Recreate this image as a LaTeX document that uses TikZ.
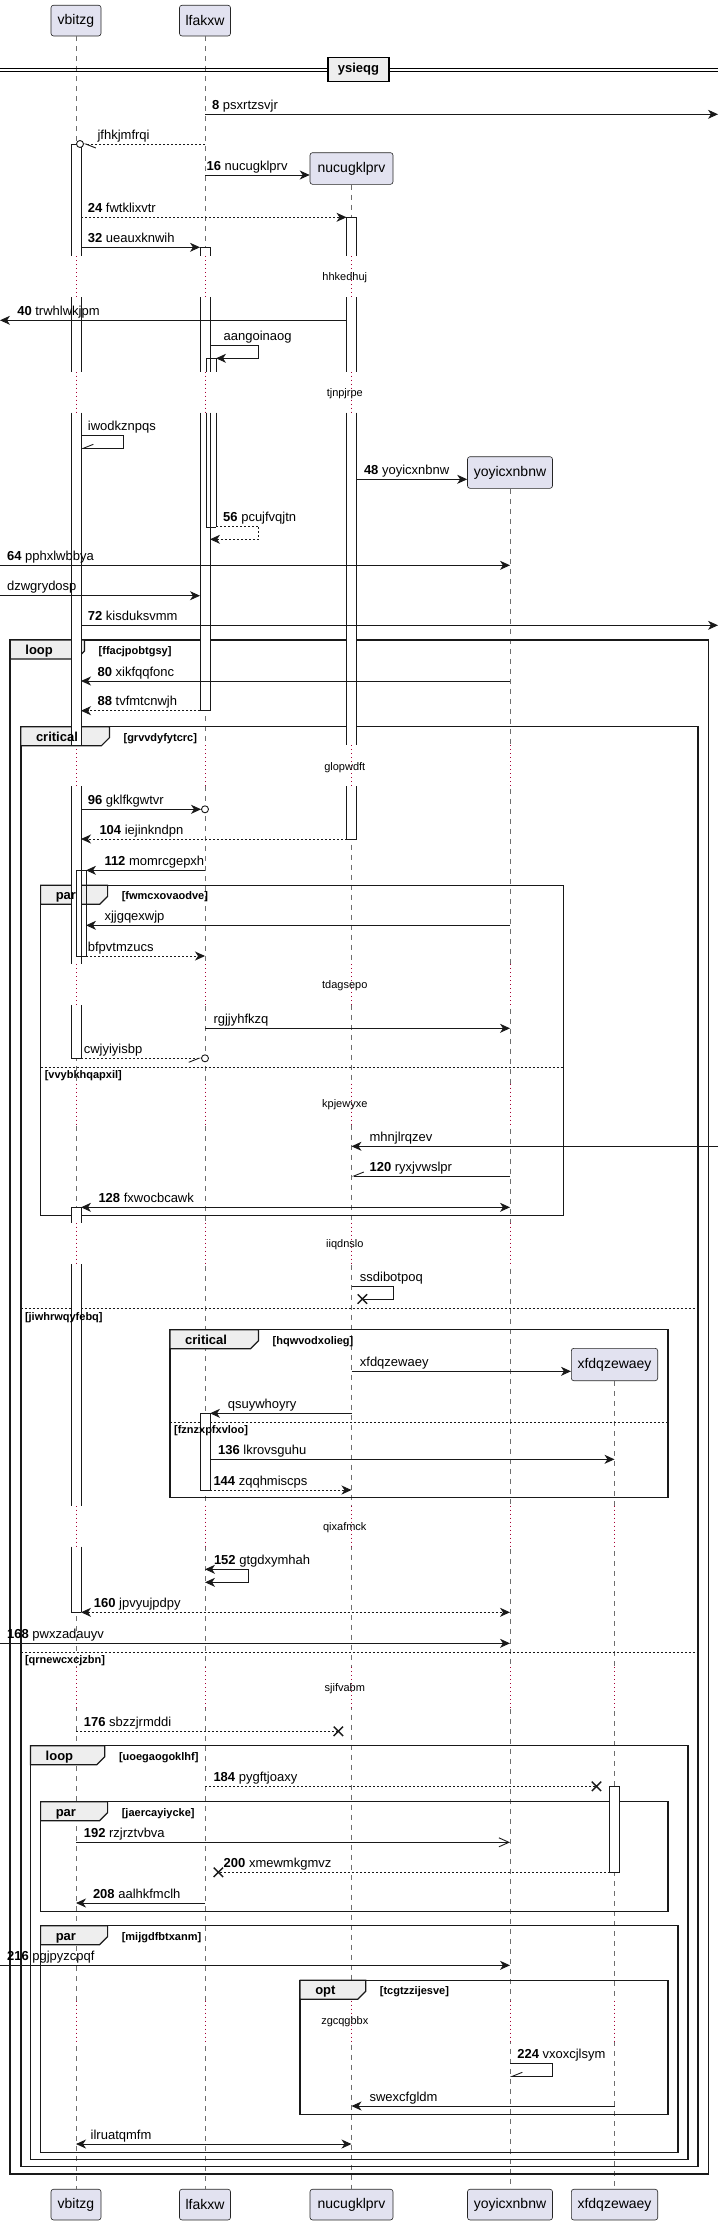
\documentclass[tikz,border=0pt]{standalone}
\usepackage{fontspec}
\setmainfont{Liberation Sans}
\usetikzlibrary{arrows.meta,shapes.misc}
\pgfdeclarelayer{fg}
\pgfsetlayers{main,fg}
\definecolor{partfill}{RGB}{226,226,240}
\definecolor{tabfill}{RGB}{238,238,238}
\definecolor{delaycol}{RGB}{168,0,54}
\definecolor{lifecol}{RGB}{110,110,110}
\tikzset{
  lbl/.style={anchor=base west, inner sep=0pt, font=\fontsize{13}{15}\selectfont},
  dly/.style={inner sep=0pt, font=\fontsize{11}{13}\selectfont},
  guard/.style={anchor=base west, inner sep=0pt, font=\bfseries\fontsize{11}{13}\selectfont},
  tablbl/.style={anchor=base west, inner sep=0pt, font=\bfseries\fontsize{13}{15}\selectfont},
  part/.style={draw=black!85, fill=partfill, rounded corners=2.5pt, line width=0.6pt, font=\fontsize{14}{16}\selectfont, inner sep=0pt},
  msg/.style={draw=black!90, line width=0.9pt},
  dsh/.style={dash pattern=on 2pt off 2pt},
  fa/.style={-{Stealth[length=10pt,width=9pt,inset=3pt]}},
  fb/.style={{Stealth[length=10pt,width=9pt,inset=3pt]}-{Stealth[length=10pt,width=9pt,inset=3pt]}},
  oa/.style={-{Straight Barb[length=10pt,width=9pt]}},
  hl/.style={-{Straight Barb[length=10pt,width=8pt,harpoon]}},
  hr/.style={-{Straight Barb[length=10pt,width=8pt,harpoon,swap]}},
  life/.style={draw=lifecol, line width=0.6pt, dash pattern=on 5pt off 5pt},
  dotl/.style={draw=delaycol, line width=0.8pt, dash pattern=on 1pt off 3pt},
  act/.style={draw=black!90, line width=0.8pt},
  frm/.style={draw=black!90, line width=1.5pt},
  tabs/.style={draw=black!90, fill=tabfill, line width=1.2pt},
  sepl/.style={draw=black!90, line width=0.9pt, dash pattern=on 2pt off 2pt},
  circ/.style={circle, draw=black!90, line width=0.9pt, fill=white, minimum size=7pt, inner sep=0pt},
  xm/.style={cross out, draw=black!90, line width=1.4pt, minimum size=8pt, inner sep=0pt},
}
\newcommand\sqMsg[7]{%
  \coordinate (#1a) at (#2,#4);
  \coordinate (#1b) at (#3,#4);
  \draw[msg,#5] (#1a) -- (#1b);
  \node[lbl] (#1l) at (#6,#4-5) {#7};
}
\newcommand\sqSelf[9]{%
  \coordinate (#1a) at (#2,#5);
  \coordinate (#1b) at (#4,#6);
  \draw[msg,#7] (#1a) -- (#3,#5) -- (#3,#6) -- (#1b);
  \node[lbl] (#1l) at (#8,#5-5) {#9};
}
\newcommand\sqAct[4]{%
  \fill[white] (#1,#3) rectangle (#2,#4);
  \draw[act] (#1,#3) -- (#1,#4) (#2,#3) -- (#2,#4);
}
\newcommand\sqActE[4]{%
  \draw[act] (#1,#3) -- (#1,#4) (#2,#3) -- (#2,#4);
}
\newcommand\sqCap[3]{\draw[act] (#1,#3) -- (#2,#3);}
\newcommand\sqFrame[8]{%
  \draw[frm] (#2,#3) rectangle (#4,#5);
  \filldraw[tabs] (#2,#3) -- ++(#6,0) -- ++(0,11) -- ++(-8,8) -- (#2,#3+19) -- cycle;
  \begin{pgfonlayer}{fg}
  \node[tablbl] (#1t) at (#2+15,#3+14.5) {#7};
  \node[guard] (#1g) at (#2+#6+14,#3+14.5) {#8};
  \end{pgfonlayer}
}
\newcommand\sqElse[5]{%
  \draw[sepl] (#2,#4) -- (#3,#4);
  \begin{pgfonlayer}{fg}
  \node[guard] (#1) at (#2+4,#4+11.5) {#5};
  \end{pgfonlayer}
}
\begin{document}
\begin{tikzpicture}[x=1pt,y=-1pt]
\useasboundingbox (0,0) rectangle (718,2225);
% participants
\node[part, minimum width=50pt, minimum height=30.7pt] (hv) at (76,20.6) {vbitzg};
\node[part, minimum width=51pt, minimum height=30.7pt] (hl) at (205,20.6) {lfakxw};
\node[part, minimum width=83pt, minimum height=31.6pt] (hn) at (351.5,168.5) {nucugklprv};
\node[part, minimum width=85pt, minimum height=31.6pt] (hy) at (510,472.5) {yoyicxnbnw};
\node[part, minimum width=86.4pt, minimum height=32.4pt] (hx) at (614.5,1364.5) {xfdqzewaey};
\node[part, minimum width=50pt, minimum height=30.7pt] (fv) at (76,2204.6) {vbitzg};
\node[part, minimum width=51pt, minimum height=30.7pt] (fl) at (205,2204.6) {lfakxw};
\node[part, minimum width=83pt, minimum height=30.7pt] (fn) at (351.5,2204.6) {nucugklprv};
\node[part, minimum width=85pt, minimum height=30.7pt] (fy) at (510,2204.6) {yoyicxnbnw};
\node[part, minimum width=86.4pt, minimum height=30.7pt] (fx) at (614.5,2204.6) {xfdqzewaey};
% lifelines
\draw[life] (hv.south) -- (fv.north);
\draw[life] (hl.south) -- (fl.north);
\draw[life] (hn.south) -- (fn.north);
\draw[life] (hy.south) -- (fy.north);
\draw[life] (hx.south) -- (fx.north);
\foreach \x in {76,205,351.5}{
  \foreach \a/\b in {256/297.3,371.7/412.7,745/786,964.3/1005,1083.6/1124.6,1222.7/1264.3,1505.7/1546.7,1667/1707.7,2000.5/2041}{
    \draw[white,line width=2.5pt] (\x,\a) -- (\x,\b);
    \draw[dotl] (\x,\a) -- (\x,\b);}}
\foreach \a/\b in {745/786,964.3/1005,1083.6/1124.6,1222.7/1264.3,1505.7/1546.7,1667/1707.7,2000.5/2041}{
    \draw[white,line width=2.5pt] (510,\a) -- (510,\b);
    \draw[dotl] (510,\a) -- (510,\b);}
\foreach \a/\b in {1505.7/1546.7,1667/1707.7,2000.5/2041}{
    \draw[white,line width=2.5pt] (614.5,\a) -- (614.5,\b);
    \draw[dotl] (614.5,\a) -- (614.5,\b);}
% delay texts
\node[dly] (d1) at (344.8,277.3) {hhkedhuj};
\node[dly] (d2) at (344.8,393.3) {tjnpjrpe};
\node[dly] (d3) at (344.8,767.3) {glopwdft};
\node[dly] (d4) at (344.8,985.3) {tdagsepo};
\node[dly] (d5) at (344.8,1104.3) {kpjewyxe};
\node[dly] (d6) at (344.8,1244.7) {iiqdnslo};
\node[dly] (d7) at (344.8,1527.3) {qixafmck};
\node[dly] (d8) at (344.8,1688.3) {sjifvabm};
\node[dly] (d9) at (344.8,2022) {zgcqgbbx};
% divider
\draw[line width=0.9pt] (0,68.3) -- (718,68.3) (0,71.7) -- (718,71.7);
\node[draw=black, line width=1.5pt, fill=tabfill, minimum width=61.4pt, minimum height=24.4pt, inner sep=0pt, font=\bfseries\fontsize{13}{15}\selectfont] (div) at (358.5,69.5) {ysieqg};
% frames
\sqFrame{f1}{10.2}{640}{708.7}{2174}{74.3}{loop}{[ffacjpobtgsy]}
\sqFrame{f2}{20.8}{726.7}{698.1}{2166.7}{88.6}{critical}{[grvvdyfytcrc]}
\sqElse{e21}{20.8}{698.1}{1308.7}{[jiwhrwqyfebq]}
\sqElse{e22}{20.8}{698.1}{1652.3}{[qrnewcxcjzbn]}
\sqFrame{f3}{40.6}{885.3}{563.3}{1215.7}{67}{par}{[fwmcxovaodve]}
\sqElse{e31}{40.6}{563.3}{1067.3}{[vvybkhqapxil]}
\sqFrame{f4}{169.9}{1329.7}{668.1}{1497.7}{88.6}{critical}{[hqwvodxolieg]}
\sqElse{e41}{169.9}{668.1}{1422}{[fznzxpfxvloo]}
\sqFrame{f5}{30.5}{1745.7}{687.9}{2159.3}{74.3}{loop}{[uoegaogoklhf]}
\sqFrame{f6}{40.6}{1801.7}{668.1}{1911.3}{67}{par}{[jaercayiycke]}
\sqFrame{f7}{40.6}{1925.7}{677.8}{2152.3}{67}{par}{[mijgdfbtxanm]}
\sqFrame{f8}{300.1}{1980.3}{668.1}{2114.3}{65.6}{opt}{[tcgtzzijesve]}
% activations
\sqAct{71}{81}{144}{256}\sqAct{71}{81}{297.3}{371.7}\sqAct{71}{81}{412.7}{745}\sqAct{71}{81}{786}{964.3}\sqAct{71}{81}{1005}{1058.3}
\sqCap{71}{81}{144}\sqCap{71}{81}{1058.3}
\sqActE{76}{86}{870.3}{956}\sqCap{76}{86}{870.3}\sqCap{76}{86}{956}
\sqAct{71}{81}{1207.3}{1222.7}\sqAct{71}{81}{1264.3}{1505.7}\sqAct{71}{81}{1546.7}{1612.3}
\sqCap{71}{81}{1207.3}\sqCap{71}{81}{1612.3}
\sqAct{200}{210}{247.3}{256}\sqAct{200}{210}{297.3}{371.7}\sqAct{200}{210}{412.7}{710.7}
\sqCap{200}{210}{247.3}\sqCap{200}{210}{710.7}
\sqActE{206}{216}{358.3}{371.7}\sqActE{206}{216}{412.7}{527.3}\sqCap{206}{216}{358.3}\sqCap{206}{216}{527.3}
\sqAct{200}{210}{1413.3}{1490}\sqCap{200}{210}{1413.3}\sqCap{200}{210}{1490}
\sqAct{346.5}{356.5}{217.3}{256}\sqAct{346.5}{356.5}{297.3}{371.7}\sqAct{346.5}{356.5}{412.7}{745}\sqAct{346.5}{356.5}{786}{839}
\sqCap{346.5}{356.5}{217.3}\sqCap{346.5}{356.5}{839}
\sqAct{609.5}{619.5}{1786.3}{1872.3}\sqCap{609.5}{619.5}{1786.3}\sqCap{609.5}{619.5}{1872.3}
% messages
\sqMsg{m8}{205}{718}{114.3}{fa}{211.9}{\textbf{8} psxrtzsvjr}
\sqMsg{mjf}{205}{83.5}{144}{dsh,hl}{97.4}{jfhkjmfrqi}
\node[circ] (cjf) at (80,144) {};
\coordinate (m16a) at (205,175);
\draw[msg,fa] (m16a) -- (hn.west|-m16a);
\node[lbl] (m16l) at (206.4,170) {\textbf{16} nucugklprv};
\sqMsg{m24}{81}{346.5}{217.3}{dsh,fa}{87.7}{\textbf{24} fwtklixvtr}
\sqMsg{m32}{81}{200}{247.3}{fa}{87.7}{\textbf{32} ueauxknwih}
\sqMsg{m40}{346.5}{0}{320.3}{fa}{17.1}{\textbf{40} trwhlwkjpm}
\sqSelf{maa}{210}{258.6}{216}{345.3}{358.3}{fa}{223.5}{aangoinaog}
\sqSelf{miw}{81}{123.7}{81}{435.7}{448.3}{hr}{87.7}{iwodkznpqs}
\coordinate (m48a) at (356.5,479.3);
\draw[msg,fa] (m48a) -- (hy.west|-m48a);
\node[lbl] (m48l) at (363.8,474.3) {\textbf{48} yoyicxnbnw};
\sqSelf{m56}{216}{258.6}{210}{526}{539.3}{dsh,fa}{223}{\textbf{56} pcujfvqjtn}
\sqMsg{m64}{0}{510}{565.3}{fa}{6.9}{\textbf{64} pphxlwbbya}
\sqMsg{mdz}{0}{200}{595.7}{fa}{6.9}{dzwgrydosp}
\sqMsg{m72}{81}{718}{625.3}{fa}{87.7}{\textbf{72} kisduksvmm}
\sqMsg{m80}{510}{81}{681}{fa}{97.4}{\textbf{80} xikfqqfonc}
\sqMsg{m88}{200}{81}{710.7}{dsh,fa}{97.4}{\textbf{88} tvfmtcnwjh}
\node[circ] (c96) at (205,809.3) {};
\coordinate (m96a) at (81,809.3);
\draw[msg,fa] (m96a) -- (c96.west);
\node[lbl] (m96l) at (87.7,804.3) {\textbf{96} gklfkgwtvr};
\sqMsg{m104}{346.5}{81}{839}{dsh,fa}{99.3}{\textbf{104} iejinkndpn}
\sqMsg{m112}{205}{86}{870.3}{fa}{104.3}{\textbf{112} momrcgepxh}
\sqMsg{mxj}{510}{86}{925.3}{fa}{104.3}{xjjgqexwjp}
\sqMsg{mbf}{86}{205}{956}{dsh,fa}{87.7}{bfpvtmzucs}
\sqMsg{mrg}{205}{510}{1028.3}{fa}{213.3}{rgjjyhfkzq}
\node[circ] (ccw) at (205,1058.3) {};
\coordinate (mcwa) at (81,1058.3);
\draw[msg,dsh,hr] (mcwa) -- (ccw.west);
\node[lbl] (mcwl) at (83.6,1053.3) {cwjyiyisbp};
\sqMsg{mmh}{718}{351.5}{1146.3}{fa}{369.4}{mhnjlrqzev}
\sqMsg{m120}{510}{351.5}{1176}{hr}{369.4}{\textbf{120} ryxjvwslpr}
\sqMsg{m128}{81}{510}{1207.3}{fb}{98.3}{\textbf{128} fxwocbcawk}
\node[xm] (xss) at (362.4,1299) {};
\coordinate (mssa) at (351.5,1286.7);
\draw[msg] (mssa) -- (393.4,1286.7) -- (393.4,1299) -- (xss.center);
\node[lbl] (mssl) at (359.7,1281.7) {ssdibotpoq};
\coordinate (mxfa) at (351.5,1371.3);
\draw[msg,fa] (mxfa) -- (hx.west|-mxfa);
\node[lbl] (mxfl) at (359.7,1366.3) {xfdqzewaey};
\sqMsg{mqs}{351.5}{210}{1413.3}{fa}{227.6}{qsuywhoyry}
\sqMsg{m136}{210}{614.5}{1459.3}{fa}{217.9}{\textbf{136} lkrovsguhu}
\sqMsg{m144}{210}{351.5}{1490}{dsh,fa}{213.3}{\textbf{144} zqqhmiscps}
\sqSelf{m152}{205}{248.4}{205}{1569.3}{1582.3}{fb}{213.8}{\textbf{152} gtgdxymhah}
\sqMsg{m160}{81}{510}{1612.3}{dsh,fb}{93.7}{\textbf{160} jpvyujpdpy}
\sqMsg{m168}{0}{510}{1643.3}{fa}{6.9}{\textbf{168} pwxzadauyv}
\sqMsg{m176}{76}{338.4}{1731.3}{dsh}{83.6}{\textbf{176} sbzzjrmddi}
\node[xm] (x176) at (338.4,1731.3) {};
\sqMsg{m184}{205}{596.5}{1786.3}{dsh}{213.3}{\textbf{184} pygftjoaxy}
\node[xm] (x184) at (596.5,1786.3) {};
\sqMsg{m192}{76}{510}{1842.3}{oa}{83.6}{\textbf{192} rzjrztvbva}
\sqMsg{m200}{609.5}{218.4}{1872.3}{dsh}{223.5}{\textbf{200} xmewmkgmvz}
\node[xm] (x200) at (218.4,1872.3) {};
\sqMsg{m208}{205}{76}{1903}{fa}{92.8}{\textbf{208} aalhkfmclh}
\sqMsg{m216}{0}{510}{1965.3}{fa}{6.9}{\textbf{216} pgjpyzcpqf}
\sqSelf{m224}{510}{552.7}{510}{2063.3}{2076.3}{hr}{517.1}{\textbf{224} vxoxcjlsym}
\sqMsg{msw}{614.5}{351.5}{2106}{fa}{369.4}{swexcfgldm}
\sqMsg{mil}{76}{351.5}{2144}{fb}{90.5}{ilruatqmfm}
\end{tikzpicture}
\end{document}
